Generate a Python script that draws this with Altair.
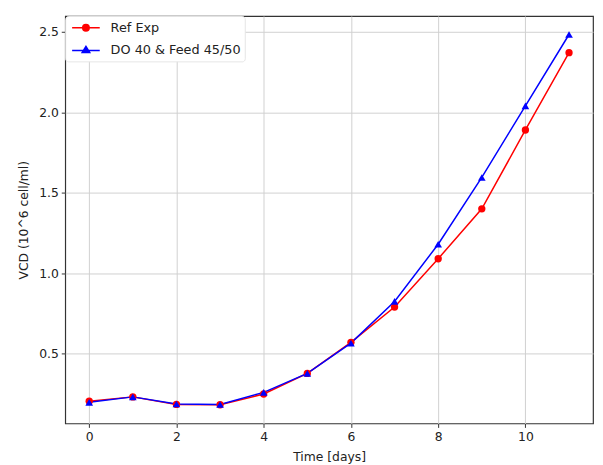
import altair as alt
import pandas as pd

days = list(range(12))
ref_exp = [0.205, 0.232, 0.185, 0.183, 0.25, 0.378, 0.571, 0.79, 1.09, 1.40, 1.89, 2.37]
do40 = [0.198, 0.232, 0.188, 0.185, 0.26, 0.378, 0.566, 0.825, 1.18, 1.595, 2.04, 2.483]
series_names = ["Ref Exp", "DO 40 & Feed 45/50"]
series_colors = ["#ff0000", "#0000ff"]
x_ticks = [0, 2, 4, 6, 8, 10]
y_ticks = [0.5, 1.0, 1.5, 2.0, 2.5]

rows = []
for name, vals in zip(series_names, [ref_exp, do40]):
    for d, v in zip(days, vals):
        rows.append({"day": d, "vcd": v, "series": name})
df = pd.DataFrame(rows)

FONT = "DejaVu Sans"

x = alt.X("day:Q", scale=alt.Scale(domain=[-0.55, 11.55], nice=False, zero=False),
          axis=alt.Axis(values=x_ticks, title="Time [days]", format="d", titlePadding=8))
y = alt.Y("vcd:Q", scale=alt.Scale(domain=[0.067, 2.598], nice=False, zero=False),
          axis=alt.Axis(values=y_ticks, title="VCD (10^6 cell/ml)", format=".1f", titlePadding=8))

# legend glyphs: a line segment with a (stroke-filled) marker on it
circle_path = ("M-2,0H2"
               "M0.47,0A0.47,0.47,0,1,1,-0.47,0A0.47,0.47,0,1,1,0.47,0"
               "M0.3,0A0.3,0.3,0,1,1,-0.3,0A0.3,0.3,0,1,1,0.3,0"
               "M0.13,0A0.13,0.13,0,1,1,-0.13,0A0.13,0.13,0,1,1,0.13,0")
tri_path = ("M-2,0H2"
            "M0,-0.6L0.55,0.3L-0.55,0.3Z"
            "M0,-0.33L0.3,0.165L-0.3,0.165Z"
            "M0,-0.12L0.11,0.06L-0.11,0.06Z")

color_scale = alt.Scale(domain=series_names, range=series_colors)

lines = alt.Chart(df).mark_line(strokeWidth=1.5).encode(
    x=x, y=y, stroke=alt.Stroke("series:N", scale=color_scale, legend=None))
pts_ref = alt.Chart(df).transform_filter(alt.datum.series == series_names[0]).mark_point(
    filled=True, size=55, opacity=1, shape="circle").encode(
    x=x, y=y, fill=alt.Fill("series:N", scale=color_scale, legend=None))
pts_do = alt.Chart(df).transform_filter(alt.datum.series == series_names[1]).mark_point(
    filled=True, size=60, opacity=1, shape="triangle-up").encode(
    x=x, y=y, fill=alt.Fill("series:N", scale=color_scale, legend=None))

legend_cfg = alt.Legend(
    title=None, orient="top-left", offset=0, padding=4,
    fillColor="white", strokeColor="#e6e6e6", cornerRadius=3,
    symbolSize=196, symbolOffset=9, labelOffset=17, rowPadding=8,
    symbolStrokeWidth=1.5, symbolOpacity=1,
    labelFont=FONT, labelFontSize=13, labelColor="#222",
)

legend_layer = alt.Chart(df).transform_filter("false").mark_point(
    filled=False, opacity=1, strokeWidth=1.5).encode(
    x=x, y=y,
    color=alt.Color("series:N", scale=color_scale, legend=legend_cfg),
    shape=alt.Shape("series:N", scale=alt.Scale(domain=series_names, range=[circle_path, tri_path]), legend=legend_cfg),
)

chart = alt.layer(lines, pts_ref, pts_do, legend_layer).resolve_scale(
    color="independent", shape="independent"
).properties(
    width=535, height=413,
    autosize=alt.AutoSizeParams(type="none"),
    padding={"left": 58, "top": 5, "right": 2, "bottom": 38},
).configure_view(
    stroke="#333333", strokeWidth=1.2
).configure_axis(
    labelFont=FONT, titleFont=FONT, labelFontSize=12.5, titleFontSize=12.5,
    titleFontWeight="normal", labelColor="#222", titleColor="#222",
    grid=True, gridColor="#d0d0d0", gridWidth=1, domain=False,
    tickColor="#333333", tickSize=4, labelPadding=3,
)

chart.save("out.html", embed_options={"renderer": "svg", "actions": False})
